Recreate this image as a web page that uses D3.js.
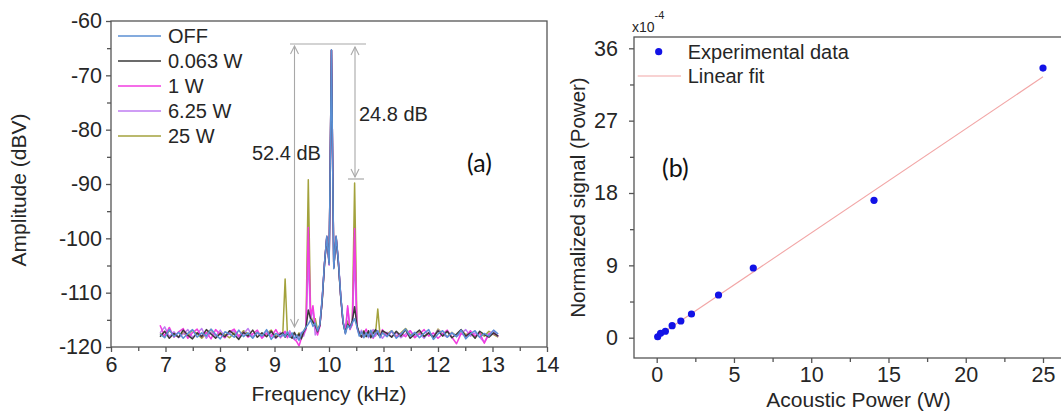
<!DOCTYPE html>
<html><head><meta charset="utf-8">
<script src="https://cdn.jsdelivr.net/npm/d3@7"></script>
<style>
body{margin:0;background:#fff;}
svg{display:block;font-family:"Liberation Sans",Arial,sans-serif;}
</style></head>
<body><svg id="c" width="1061" height="414"></svg>
<script>
// ---------- Panel (a) data ----------
const freq = [6.900,6.985,7.070,7.155,7.240,7.325,7.410,7.495,7.580,7.665,7.750,7.835,7.920,8.005,8.090,8.175,8.260,8.345,8.430,8.515,8.600,8.685,8.770,8.855,8.940,9.025,9.110,
9.1525,9.195,9.2375,9.28,9.3225,9.365,9.4075,9.45,9.4925,9.535,9.5775,9.62,9.6625,9.705,9.7475,9.79,9.8325,9.875,9.9175,9.96,10.0025,10.045,10.0875,10.13,10.1725,10.215,10.2575,10.30,10.3425,10.385,10.4275,10.47,10.5125,10.555,10.5975,10.64,10.6825,10.725,10.7675,10.81,10.8525,10.895,10.9375,10.98,
11.065,11.15,11.235,11.32,11.405,11.49,11.575,11.66,11.745,11.83,11.915,12.0,12.085,12.17,12.255,12.34,12.425,12.51,12.595,12.68,12.765,12.85,12.935,13.02,13.105];

const ampOFF = [-117.6,-118.3,-116.8,-118.1,-117.3,-118.4,-117.5,-116.8,-118.2,-117.4,-118.0,-116.7,-117.7,-118.5,-117.2,-117.6,-118.2,-116.9,-118.1,-117.4,-118.4,-117.3,-118.0,-116.8,-118.6,-117.5,-118.1,
-117.6,-118.1,-117.2,-118.2,-117.4,-118.5,-117.8,-118.8,-117.5,-117.0,-116.4,-115.8,-115.0,-116.2,-115.6,-117.0,-115.8,-111.0,-104.5,-99.6,-104.8,-65.3,-105.6,-99.6,-104.2,-110.5,-115.2,-117.6,-116.0,-116.6,-115.5,-114.8,-116.3,-118.0,-117.2,-118.3,-117.4,-118.1,-116.9,-118.2,-117.5,-117.0,-118.3,-117.4,
-118.1,-117.0,-118.4,-117.6,-116.7,-118.0,-117.3,-118.3,-117.5,-116.8,-118.6,-117.6,-117.0,-118.2,-117.4,-118.1,-116.9,-118.5,-117.6,-117.0,-118.2,-117.5,-118.0,-116.9,-117.6];

const amp0063 = [-118.1,-117.1,-118.4,-117.5,-118.2,-116.9,-117.8,-118.5,-117.4,-118.1,-116.8,-117.6,-118.4,-117.5,-118.1,-117.0,-117.7,-118.6,-117.3,-118.0,-116.9,-118.2,-117.4,-118.1,-117.1,-118.3,-117.6,
-117.4,-118.2,-117.5,-118.0,-118.4,-117.3,-118.2,-117.6,-118.5,-117.2,-116.5,-113.2,-114.8,-115.4,-116.0,-117.2,-116.0,-111.5,-104.8,-99.8,-104.5,-65.4,-105.3,-99.8,-104.6,-110.8,-115.5,-117.3,-115.8,-116.4,-115.2,-112.6,-116.0,-117.5,-118.2,-117.1,-118.1,-117.0,-118.3,-117.5,-116.8,-117.6,-118.1,-117.0,
-117.5,-118.2,-117.1,-118.0,-116.8,-118.4,-117.6,-116.9,-118.1,-117.4,-118.2,-117.0,-118.0,-117.1,-118.3,-117.6,-116.8,-118.0,-117.4,-118.4,-117.1,-117.7,-118.2,-117.4,-118.0];

const amp1 = [-116.0,-118.0,-116.4,-118.2,-117.2,-116.6,-118.4,-117.4,-116.7,-118.1,-117.3,-118.5,-116.8,-117.7,-118.3,-117.2,-116.7,-118.0,-117.3,-118.2,-117.6,-116.9,-118.4,-117.5,-118.1,-116.8,-118.3,
-117.6,-117.1,-118.3,-117.5,-118.1,-118.6,-119.0,-119.8,-118.4,-117.5,-116.8,-98.0,-114.5,-112.4,-116.2,-117.8,-116.2,-111.2,-104.6,-99.7,-104.9,-65.4,-105.2,-99.7,-104.4,-110.6,-115.6,-117.2,-112.4,-116.8,-115.8,-98.2,-116.4,-117.3,-118.2,-117.5,-116.7,-118.0,-117.3,-118.4,-117.6,-117.0,-118.1,-116.8,
-118.0,-117.1,-118.2,-117.5,-118.1,-117.0,-118.3,-117.6,-116.8,-118.0,-117.4,-118.4,-117.6,-116.9,-118.2,-119.4,-117.5,-118.1,-117.0,-118.0,-117.4,-119.3,-117.6,-117.5,-118.0];

const amp625 = [-117.4,-116.3,-118.1,-117.2,-118.3,-117.6,-116.8,-118.2,-117.5,-116.6,-118.4,-117.3,-118.0,-116.9,-118.2,-117.5,-117.0,-118.3,-117.6,-116.6,-118.1,-117.4,-118.2,-117.0,-117.7,-118.4,-117.3,
-118.0,-117.4,-118.2,-117.0,-118.1,-117.5,-118.6,-117.9,-117.3,-118.0,-116.6,-103.5,-115.2,-112.8,-117.8,-116.8,-116.1,-111.3,-104.7,-99.6,-104.7,-65.4,-105.4,-99.6,-104.3,-110.7,-115.4,-117.5,-112.8,-116.5,-115.9,-103.6,-116.5,-117.8,-116.9,-118.1,-117.4,-118.3,-117.5,-116.8,-118.0,-117.3,-117.7,-118.4,
-117.3,-118.1,-117.4,-118.3,-117.6,-117.0,-118.1,-117.5,-118.4,-117.3,-118.0,-116.9,-117.7,-118.2,-117.4,-118.1,-117.5,-116.8,-118.0,-117.4,-118.2,-119.1,-117.6,-117.0,-118.1];

const amp25 = [-117.5,-118.1,-117.0,-117.7,-118.2,-117.4,-118.0,-116.9,-117.6,-118.4,-117.5,-116.8,-118.1,-117.3,-117.7,-118.3,-117.4,-118.0,-117.0,-117.6,-118.2,-117.3,-118.0,-117.5,-116.9,-118.1,-117.4,
-117.6,-107.5,-117.7,-117.3,-118.1,-117.5,-118.2,-117.4,-118.0,-117.2,-116.2,-89.2,-114.0,-115.5,-114.8,-116.8,-116.0,-111.4,-104.6,-99.6,-104.8,-65.4,-105.5,-99.6,-104.5,-110.7,-115.3,-117.4,-115.2,-116.7,-115.6,-89.8,-116.3,-117.5,-118.1,-117.0,-118.0,-117.4,-118.1,-117.1,-117.6,-113.0,-118.0,-117.3,
-117.6,-117.0,-118.1,-117.4,-116.6,-117.7,-118.2,-117.3,-118.0,-117.5,-118.3,-116.7,-117.6,-118.1,-117.3,-118.0,-117.0,-117.7,-117.5,-118.2,-117.4,-118.0,-117.1,-117.7,-118.2];

const seriesNames = ["OFF","0.063 W","1 W","6.25 W","25 W"];
const seriesColors = ["#5b8fd3","#3a3a3a","#f23ce0","#bf7cf2","#a3a23c"];
const seriesAmps = [ampOFF, amp0063, amp1, amp625, amp25];

const aXTicks = [6,7,8,9,10,11,12,13,14];
const aYTicks = [-120,-110,-100,-90,-80,-70,-60];

// ---------- Panel (b) data ----------
const powerW = [0.0625,0.25,0.5625,1,1.5625,2.25,4,6.25,14.0625,25];
const normSig = [0.12,0.55,0.80,1.49,2.08,2.95,5.31,8.67,17.09,33.54];
const fitSlope = 1.295, fitIntercept = 0.08;
const fitX = [0,25];
const bXTicks = [0,5,10,15,20,25];
const bYTicks = [0,9,18,27,36];

const svg = d3.select("#c");
const txt = "#262626", axc = "#555";
const tickFont = "21.5px";

// ================= Panel (a) =================
const xa = d3.scaleLinear().domain([6,14]).range([111,547]);
const ya = d3.scaleLinear().domain([-120,-60]).range([347,21]);

const line = d3.line().x((d,i)=>xa(freq[i])).y(d=>ya(d));
const order = [4,3,2,1,0];
order.forEach(s=>{
  svg.append("path").attr("d", line(seriesAmps[s]))
    .attr("fill","none").attr("stroke",seriesColors[s]).attr("stroke-width",1.5)
    .attr("stroke-linejoin","round");
});

svg.append("rect").attr("x",xa(6)).attr("y",ya(-60)).attr("width",xa(14)-xa(6)).attr("height",ya(-120)-ya(-60))
  .attr("fill","none").attr("stroke",axc).attr("stroke-width",1.3);

const axA_x = svg.append("g").attr("transform",`translate(0,${ya(-120)})`)
  .call(d3.axisBottom(xa).tickValues(aXTicks).tickSize(5).tickFormat(d=>d));
const axA_xm = svg.append("g").attr("transform",`translate(0,${ya(-120)})`)
  .call(d3.axisBottom(xa).tickValues(d3.range(6.5,14,1)).tickSize(4).tickFormat(""));
const axA_y = svg.append("g").attr("transform",`translate(${xa(6)},0)`)
  .call(d3.axisLeft(ya).tickValues(aYTicks).tickSize(5).tickFormat(d=>d));
const axA_ym = svg.append("g").attr("transform",`translate(${xa(6)},0)`)
  .call(d3.axisLeft(ya).tickValues(d3.range(-115,-60,10)).tickSize(4).tickFormat(""));

[axA_x,axA_xm,axA_y,axA_ym].forEach(g=>{
  g.select(".domain").remove();
  g.selectAll("line").attr("stroke",axc).attr("stroke-width",1.3);
  g.selectAll("text").attr("fill",txt).style("font-size",tickFont).style("font-family","'Liberation Sans',Arial,sans-serif");
});
axA_x.selectAll("text").attr("dy","0.71em").attr("y",10);
axA_y.selectAll("text").attr("x",-9);

svg.append("text").attr("x",xa(10)).attr("y",401).attr("text-anchor","middle")
  .attr("fill",txt).style("font-size","21px").text("Frequency (kHz)");
svg.append("text").attr("transform",`translate(26,${(ya(-60)+ya(-120))/2 + 6}) rotate(-90)`)
  .attr("text-anchor","middle").attr("fill",txt).style("font-size","21px").text("Amplitude (dBV)");

// legend (a)
const legA = svg.append("g");
seriesNames.forEach((n,i)=>{
  const yy = 36 + i*25;
  legA.append("line").attr("x1",118).attr("x2",161).attr("y1",yy).attr("y2",yy)
    .attr("stroke",seriesColors[i]).attr("stroke-width",1.6);
  legA.append("text").attr("x",168).attr("y",yy+7).attr("fill",txt).style("font-size","20px").text(n);
});

// annotations
const ann = "#a8a8a8";
svg.append("line").attr("x1",290).attr("x2",366).attr("y1",44).attr("y2",44).attr("stroke",ann).attr("stroke-width",1.2);
svg.append("line").attr("x1",348).attr("x2",364).attr("y1",179).attr("y2",179).attr("stroke",ann).attr("stroke-width",1.2);
function dArrow(x,y1,y2){
  svg.append("line").attr("x1",x).attr("x2",x).attr("y1",y1+1).attr("y2",y2-1).attr("stroke",ann).attr("stroke-width",1.1);
  svg.append("path").attr("d",`M${x-4},${y1+9}L${x},${y1+1}L${x+4},${y1+9}`).attr("fill","none").attr("stroke",ann).attr("stroke-width",1.1);
  svg.append("path").attr("d",`M${x-4},${y2-9}L${x},${y2-1}L${x+4},${y2-9}`).attr("fill","none").attr("stroke",ann).attr("stroke-width",1.1);
}
dArrow(294.5,45,328);
dArrow(355,46,178);
svg.append("text").attr("x",252).attr("y",160).attr("fill",txt).style("font-size","20px").text("52.4 dB");
svg.append("text").attr("x",359).attr("y",121).attr("fill",txt).style("font-size","20px").text("24.8 dB");
svg.append("text").attr("x",467).attr("y",172).attr("fill","#111").style("font-size","25px").style("font-family","Lato, 'Open Sans', sans-serif").text("(a)");

// ================= Panel (b) =================
const xb = d3.scaleLinear().domain([0,25]).range([656.7,1043]);
const yb = d3.scaleLinear().domain([0,36]).range([337.7,48.3]);
const bLeft = 634, bTop = 37, bBottom = 358;

svg.append("rect").attr("x",bLeft).attr("y",bTop).attr("width",1070-bLeft).attr("height",bBottom-bTop)
  .attr("fill","none").attr("stroke",axc).attr("stroke-width",1.3);

const axB_x = svg.append("g").attr("transform",`translate(0,${bBottom})`)
  .call(d3.axisBottom(xb).tickValues(bXTicks).tickSize(5).tickFormat(d=>d));
const axB_xm = svg.append("g").attr("transform",`translate(0,${bBottom})`)
  .call(d3.axisBottom(xb).tickValues(d3.range(2.5,25,5)).tickSize(4).tickFormat(""));
const axB_y = svg.append("g").attr("transform",`translate(${bLeft},0)`)
  .call(d3.axisLeft(yb).tickValues(bYTicks).tickSize(5).tickFormat(d=>d));
const axB_ym = svg.append("g").attr("transform",`translate(${bLeft},0)`)
  .call(d3.axisLeft(yb).tickValues(d3.range(4.5,36,9)).tickSize(4).tickFormat(""));
[axB_x,axB_xm,axB_y,axB_ym].forEach(g=>{
  g.select(".domain").remove();
  g.selectAll("line").attr("stroke",axc).attr("stroke-width",1.3);
  g.selectAll("text").attr("fill",txt).style("font-size",tickFont).style("font-family","'Liberation Sans',Arial,sans-serif");
});
axB_x.selectAll("text").attr("dy","0.71em").attr("y",9);
axB_y.selectAll("text").attr("x",-16);

// fit line
svg.append("line").attr("x1",xb(fitX[0])).attr("y1",yb(fitSlope*fitX[0]+fitIntercept))
  .attr("x2",xb(fitX[1])).attr("y2",yb(fitSlope*fitX[1]+fitIntercept))
  .attr("stroke","#f2a6a6").attr("stroke-width",1.1);

svg.selectAll("circle.pt").data(powerW).enter().append("circle").attr("class","pt")
  .attr("cx",d=>xb(d)).attr("cy",(d,i)=>yb(normSig[i])).attr("r",3.6).attr("fill","#1212e6");

// legend (b)
svg.append("circle").attr("cx",658.7).attr("cy",51.7).attr("r",3.6).attr("fill","#1212e6");
svg.append("text").attr("x",687.7).attr("y",58.5).attr("fill",txt).style("font-size","20px").text("Experimental data");
svg.append("line").attr("x1",637.7).attr("x2",681).attr("y1",76).attr("y2",76).attr("stroke","#f2a6a6").attr("stroke-width",1.1);
svg.append("text").attr("x",687.7).attr("y",82.5).attr("fill",txt).style("font-size","20px").text("Linear fit");

const mult = svg.append("text").attr("x",632).attr("y",32).attr("fill",txt).style("font-size","14px");
mult.append("tspan").text("x10");
mult.append("tspan").attr("dy",-13).style("font-size","11px").text("-4");

svg.append("text").attr("x",858.5).attr("y",406.5).attr("text-anchor","middle")
  .attr("fill",txt).style("font-size","21px").text("Acoustic Power (W)");
svg.append("text").attr("transform",`translate(585,${(bTop+bBottom)/2}) rotate(-90)`)
  .attr("text-anchor","middle").attr("fill",txt).style("font-size","20.5px").text("Normalized signal (Power)");
svg.append("text").attr("x",662).attr("y",177).attr("fill","#111").style("font-size","25px").style("font-family","Lato, 'Open Sans', sans-serif").text("(b)");
</script></body></html>
